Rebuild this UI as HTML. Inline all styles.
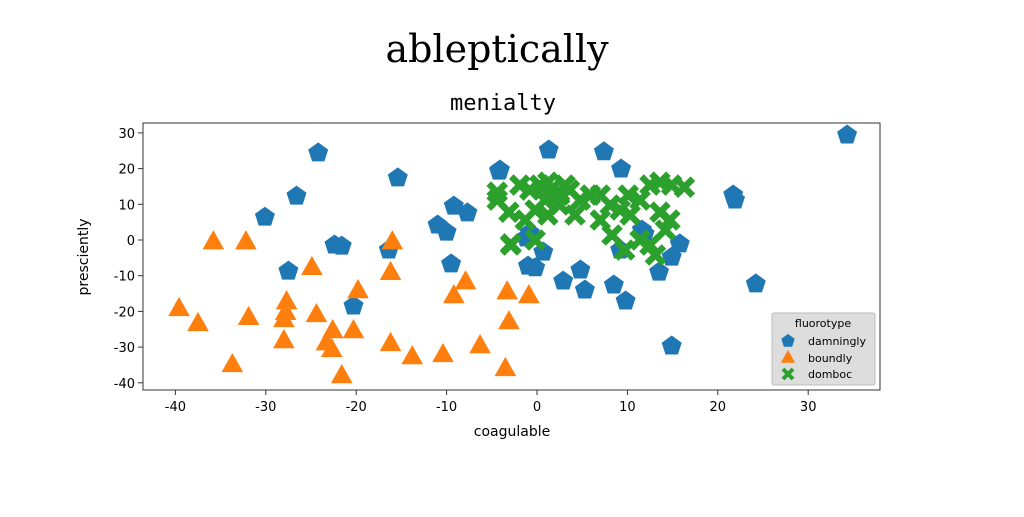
<!DOCTYPE html>
<html><head><meta charset="utf-8"><style>
body{margin:0;background:#fff;width:1024px;height:512px;overflow:hidden}
text{font-family:"DejaVu Sans","Liberation Sans",sans-serif}
</style></head><body>
<svg id="c" width="1024" height="512" xmlns="http://www.w3.org/2000/svg">
<text x="497" y="62" text-anchor="middle" font-size="38" style="font-family:'DejaVu Serif','Liberation Serif',serif">ableptically</text>
<text x="503" y="110" text-anchor="middle" font-size="22" style="font-family:'DejaVu Sans Mono','Liberation Mono',monospace">menialty</text>
<rect x="143" y="123" width="737" height="267" fill="#fff" stroke="#333" stroke-width="1"/>
<g id="marks"></g>
<g id="axes"></g>
<text x="512" y="436" text-anchor="middle" font-size="14">coagulable</text>
<text transform="translate(88,257) rotate(-90)" text-anchor="middle" font-size="14">presciently</text>
<g>
<rect x="772" y="313" width="103" height="72" fill="#ddd" stroke="#bbb" rx="2"/>
<text x="823" y="327" text-anchor="middle" font-size="11">fluorotype</text>
<g id="leg"></g>
</g>
</svg>
<script>
const xTicks=[-40,-30,-20,-10,0,10,20,30];
const yTicks=[30,20,10,0,-10,-20,-30,-40];
const blueX=[-24.2,-26.6,-30.1,-27.5,-22.4,-21.6,-16.4,-15.4,-11,-10,-9.2,-7.7,-20.3,-9.5,34.3,1.3,7.4,9.3,-4.2,21.7,21.9,13.5,24.2,14.9,9.8,8.5,4.8,2.9,5.3,-0.2,-1,-4.1,-0.8,-1.2,0.7,14.9,15.8,11.6,9.2,11.9];
const blueY=[24.4,12.3,6.4,-8.7,-1.4,-1.7,-2.8,17.4,4.2,2.2,9.5,7.6,-18.5,-6.7,29.4,25.2,24.7,19.9,19.3,12.6,11.2,-9,-12.3,-29.7,-17.1,-12.6,-8.4,-11.5,-14,-7.8,-7.3,19.6,2,0.6,-3.4,-4.8,-1.1,2.8,-2.8,1.7];
const orX=[-35.8,-32.2,-24.9,-16,-16.2,-19.8,-27.7,-27.8,-39.6,-37.5,-31.9,-28,-24.4,-28,-22.6,-22.7,-23.3,-20.3,-16.2,-13.8,-10.4,-6.3,-3.5,-9.2,-7.9,-3.3,-3.1,-0.9,-21.6,-33.7];
const orY=[-0.6,-0.6,-7.8,-0.6,-9.2,-14.3,-17.4,-20.4,-19.3,-23.5,-21.8,-22.4,-21,-28.3,-25.5,-30.8,-28.9,-25.5,-29.1,-32.8,-32.2,-29.7,-36.1,-15.7,-11.8,-14.6,-23,-15.7,-38.1,-35]; 
const grX=[-4.4,-3.1,-2.9,-4.4,-1.9,-0.8,0.3,1.5,2.5,0.9,-0.2,-1.3,1.2,2.5,3.6,4.8,5.9,7,8.1,9.2,10.1,11.4,12.5,13.6,14.9,16.3,7,8.3,9.7,11.4,12.5,13.1,14.2,14.7,13.6,10.3,4.2,-0.2,-2.9,1.2,3.1];
const grY=[13.4,7.8,-1.1,11.2,15.4,14,15.4,14,12.6,11.2,8.4,5.6,7,9.8,14,11.2,12.6,12.6,9.8,8.4,12.6,11.2,15.4,16.2,15.4,14.8,5.6,1.4,-2.8,0,-1.4,-4.2,2.8,5.6,7.8,7,7,0,-1.4,16.2,15.4];
const X=v=>537+v*9.04, Y=v=>240-v*3.57;
const NS="http://www.w3.org/2000/svg";
const marks=document.getElementById('marks'), axes=document.getElementById('axes'), leg=document.getElementById('leg');
function mk(t,a,p){const e=document.createElementNS(NS,t);for(const k in a)e.setAttribute(k,a[k]);p.appendChild(e);return e;}
function pent(cx,cy,r){let s=[];for(let i=0;i<5;i++){const a=-Math.PI/2+i*2*Math.PI/5;s.push((cx+r*Math.cos(a)).toFixed(1)+','+(cy+r*Math.sin(a)).toFixed(1));}return s.join(' ');}
function tri(cx,cy,r){return `${cx},${cy-r} ${cx+r*0.9},${cy+r*0.6} ${cx-r*0.9},${cy+r*0.6}`;}
function cross(cx,cy,r){return `M${cx-r},${cy-r}L${cx+r},${cy+r}M${cx-r},${cy+r}L${cx+r},${cy-r}`;}
for(let i=0;i<blueX.length;i++){const e=mk('polygon',{points:pent(X(blueX[i]),Y(blueY[i]),10.5),fill:'#1f77b4'},marks);

}
for(let i=0;i<orX.length;i++){const e=mk('polygon',{points:tri(X(orX[i]),Y(orY[i]),12),fill:'#ff7f0e'},marks);

}
for(let i=0;i<grX.length;i++){const e=mk('path',{d:cross(X(grX[i]),Y(grY[i]),8.5),stroke:'#2ca02c','stroke-width':6.5,fill:'none'},marks);

}
xTicks.forEach(v=>{mk('line',{x1:X(v),x2:X(v),y1:390,y2:395,stroke:'#333'},axes);const t=mk('text',{x:X(v),y:411,'text-anchor':'middle','font-size':13},axes);t.textContent=v;

});
yTicks.forEach(v=>{mk('line',{x1:138,x2:143,y1:Y(v),y2:Y(v),stroke:'#333'},axes);const t=mk('text',{x:135,y:Y(v)+5,'text-anchor':'end','font-size':13},axes);t.textContent=v;

});
mk('polygon',{points:pent(788,341,7),fill:'#1f77b4'},leg);
mk('polygon',{points:tri(788,358,8),fill:'#ff7f0e'},leg);
mk('path',{d:cross(788,374,5),stroke:'#2ca02c','stroke-width':4,fill:'none'},leg);
[['damningly',345],['boundly',362],['domboc',378]].forEach(([s,y])=>{const t=mk('text',{x:808,y:y,'font-size':11},leg);t.textContent=s;

});
</script>
</body></html>
